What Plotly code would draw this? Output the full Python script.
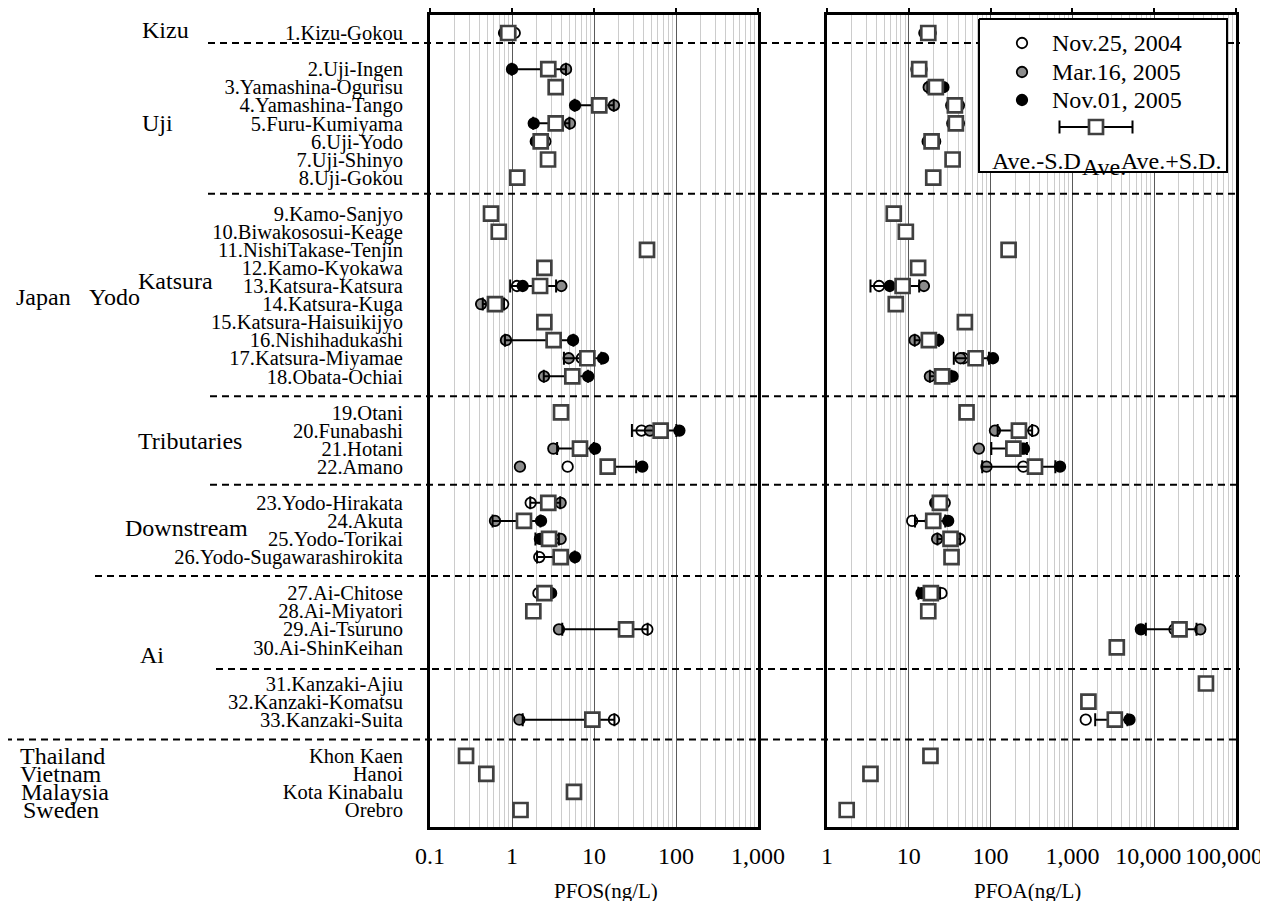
import plotly.graph_objects as go

# ---------------- data ----------------
stations = ["1.Kizu-Gokou", "2.Uji-Ingen", "3.Yamashina-Ogurisu", "4.Yamashina-Tango",
            "5.Furu-Kumiyama", "6.Uji-Yodo", "7.Uji-Shinyo", "8.Uji-Gokou",
            "9.Kamo-Sanjyo", "10.Biwakososui-Keage", "11.NishiTakase-Tenjin",
            "12.Kamo-Kyokawa", "13.Katsura-Katsura", "14.Katsura-Kuga",
            "15.Katsura-Haisuikijyo", "16.Nishihadukashi", "17.Katsura-Miyamae",
            "18.Obata-Ochiai", "19.Otani", "20.Funabashi", "21.Hotani", "22.Amano",
            "23.Yodo-Hirakata", "24.Akuta", "25.Yodo-Torikai", "26.Yodo-Sugawarashirokita",
            "27.Ai-Chitose", "28.Ai-Miyatori", "29.Ai-Tsuruno", "30.Ai-ShinKeihan",
            "31.Kanzaki-Ajiu", "32.Kanzaki-Komatsu", "33.Kanzaki-Suita",
            "Khon Kaen", "Hanoi", "Kota Kinabalu", "Orebro"]
block_sizes = [1, 7, 10, 4, 4, 4, 3, 4]

N = None
pfos_nov04 = [1.08, 2.8, N, 11.4, 3.3, 2.55, N, N, N, N, N, N, 1.15, 0.78, N, 3.3, 7.1, 5.4,
              N, 38, 6.8, 4.77, 1.69, 1.32, 2.4, 2.15, 2.1, N, 44.7, N, N, N, 17.5, N, N, N, N]
pfos_mar05 = [0.85, 4.56, N, 17.5, 5.09, 2.2, N, N, N, N, N, N, 4.0, 0.42, N, 0.845, 4.91, 2.46,
              N, 48, 3.19, 1.25, 3.92, 0.62, 3.92, 3.7, 2.4, N, 3.74, N, N, N, 1.23, N, N, N, N]
pfos_nov05 = [0.80, 1.0, N, 5.87, 1.84, 1.95, N, N, N, N, N, N, 1.35, 0.66, N, 5.55, 12.9, 8.5,
              N, 110, 10.3, 38.8, 2.7, 2.26, 2.19, 5.87, 3.0, N, 25.4, N, N, N, 9.9, N, N, N, N]
pfos_ave = [0.90, 2.77, 3.41, 11.6, 3.41, 2.24, 2.75, 1.16, 0.555, 0.69, 44.3, 2.48, 2.2, 0.62,
            2.48, 3.22, 8.3, 5.44, 3.96, 65, 6.75, 14.7, 2.77, 1.4, 2.83, 3.92, 2.48, 1.82, 24.6,
            N, N, N, 9.55, 0.275, 0.486, 5.7, 1.27]
pfos_sd = [0.14, 1.78, N, 5.8, 1.6, 0.3, N, N, N, N, N, N, 1.25, 0.18, N, 2.4, 4.0, 3.0,
           N, 36, 3.2, 18, 1.1, 0.82, 0.9, 1.9, 0.45, N, 20.5, N, N, N, 8.2, N, N, N, N]

pfoa_nov04 = [15.5, 12.4, 21, 36, 36, 21, N, N, N, N, N, N, 4.33, N, N, 18.5, 46.6, 24,
              N, 333, 242, 251, 27.5, 11, 42, N, 25.1, N, 17700, N, N, N, 1456, N, N, N, N]
pfoa_mar05 = [17.5, 14.3, 17.5, 41, 41, 19, N, N, N, N, N, N, 15.3, N, N, 11.8, 42.9, 18.1,
              N, 113, 72, 89, 24, 18.5, 22.2, N, 17, N, 36600, N, N, N, 3400, N, N, N, N]
pfoa_nov05 = [18.5, 13.5, 26.5, 33, 34, 17, N, N, N, N, N, N, 5.85, N, N, 22.9, 107, 34.3,
              N, 220, 256, 706, 21, 30.3, 33, N, 14.3, N, 6870, N, N, N, 4990, N, N, N, N]
pfoa_ave = [17.3, 13.4, 21.4, 36.6, 37.6, 19, 34.3, 19.9, 6.55, 9.2, 166, 13.0, 8.4, 6.93,
            48.5, 17.6, 65.5, 25.6, 50.8, 222, 190, 349, 24, 19.9, 32.4, 33.3, 18.6, 17.3,
            20400, 3490, 42900, 1570, 3300, 18.4, 3.4, N, 1.74]
pfoa_sd = [N, N, 4.5, 4, 3.5, 2, N, N, N, N, N, N, 5.0, N, N, 5.8, 30, 7.5,
           N, 100, 88, 270, 3.5, 8, 10, N, 5.5, N, 12500, N, N, N, 1400, N, N, N, N]

pfos_ticks = ["0.1", "1", "10", "100", "1,000"]
pfoa_ticks = ["1", "10", "100", "1,000", "10,000\u00a0\u00a0",
              "100,000\u00a0\u00a0\u00a0\u00a0"]
legend_labels = ["Nov.25, 2004", "Mar.16, 2005", "Nov.01, 2005"]

# ---------------- layout geometry (page px) ----------------
FONT = "Liberation Serif, Times New Roman, serif"
OFF = 8                      # default page body margin
PAGE_W, PAGE_H = 1268, 901
W, H = PAGE_W - OFF, PAGE_H - OFF
TOP, BOT = 15, 827
L1, R1 = 430, 758
L2, R2 = 827, 1236
ROW0, ROW = 33, 18.07


def px(x):
    return (x - OFF) / W


def py(y):
    return (BOT - y) / (BOT - TOP)


slots, block_last = [], []
s = 0
for n in block_sizes:
    for _ in range(n):
        slots.append(s)
        s += 1
    block_last.append(s - 1)
    s += 1

y_range = [(BOT - ROW0) / ROW, (TOP - ROW0) / ROW]

circle_styles = [("white", pfos_nov04, pfoa_nov04), ("#8c8c8c", pfos_mar05, pfoa_mar05),
                 ("black", pfos_nov05, pfoa_nov05)]

fig = go.Figure()


def circles(vals, color, xa, ya):
    return go.Scatter(x=vals, y=slots, mode="markers", xaxis=xa, yaxis=ya,
                      marker=dict(symbol="circle", size=10.5, color=color,
                                  line=dict(color="black", width=1.8)),
                      showlegend=False, hoverinfo="skip")


def squares(ave, sd, xa, ya):
    plus = [v if v is not None else 0 for v in sd]
    minus = [v if (v is not None and a is not None and a - v > 0) else 0
             for a, v in zip(ave, sd)]
    return go.Scatter(x=ave, y=slots, mode="markers", xaxis=xa, yaxis=ya,
                      marker=dict(symbol="square", size=14, color="white",
                                  line=dict(color="#404040", width=2.7)),
                      error_x=dict(type="data", symmetric=False, array=plus,
                                   arrayminus=minus, color="black", thickness=2, width=6.5),
                      showlegend=False, hoverinfo="skip")


for color, a, b in circle_styles:
    fig.add_trace(circles(a, color, "x", "y"))
for color, a, b in circle_styles:
    fig.add_trace(circles(b, color, "x2", "y2"))
fig.add_trace(squares(pfos_ave, pfos_sd, "x", "y"))
fig.add_trace(squares(pfoa_ave, pfoa_sd, "x2", "y2"))

# dummy traces to register top-tick overlay axes
fig.add_trace(go.Scatter(x=[1], y=[-50], xaxis="x3", yaxis="y", mode="markers",
                         marker=dict(opacity=0), showlegend=False, hoverinfo="skip"))
fig.add_trace(go.Scatter(x=[10], y=[-50], xaxis="x4", yaxis="y2", mode="markers",
                         marker=dict(opacity=0), showlegend=False, hoverinfo="skip"))

# ---------------- custom legend (overlay axes in page-px units) ----------------
LG = dict(x0=979, x1=1227, y0=19, y1=172)
fig.add_trace(go.Scatter(x=[LG["x0"], LG["x1"], LG["x1"], LG["x0"], LG["x0"]],
                         y=[LG["y0"], LG["y0"], LG["y1"], LG["y1"], LG["y0"]],
                         mode="lines", fill="toself", fillcolor="white",
                         line=dict(color="black", width=2), xaxis="x5", yaxis="y5",
                         showlegend=False, hoverinfo="skip"))
leg_y = [43, 72, 100]
fig.add_trace(go.Scatter(x=[1022] * 3, y=leg_y, mode="markers", xaxis="x5", yaxis="y5",
                         marker=dict(symbol="circle", size=10.5,
                                     color=[c for c, _, _ in circle_styles],
                                     line=dict(color="black", width=1.8)),
                         showlegend=False, hoverinfo="skip"))
fig.add_trace(go.Scatter(x=[1096], y=[127], mode="markers", xaxis="x5", yaxis="y5",
                         marker=dict(symbol="square", size=14, color="white",
                                     line=dict(color="#404040", width=2.7)),
                         error_x=dict(type="data", array=[36.5], color="black",
                                      thickness=2, width=6.5),
                         showlegend=False, hoverinfo="skip"))

annotations = []
for lab, yy in zip(legend_labels, leg_y):
    annotations.append(dict(text=lab, x=1050, y=yy, xref="x5", yref="y5", xanchor="left",
                            yanchor="middle", showarrow=False,
                            font=dict(family=FONT, size=24, color="black")))
for lab, xx, yy in [("Ave.-S.D", 1036, 161), ("Ave.", 1104, 167), ("Ave.+S.D.", 1171, 161)]:
    annotations.append(dict(text=lab, x=xx, y=yy, xref="x5", yref="y5", xanchor="center",
                            yanchor="middle", showarrow=False,
                            font=dict(family=FONT, size=24, color="black")))

# group labels
group_labels = [("Kizu", 165, -0.17), ("Uji", 157, 5.0), ("Katsura", 175, 13.7),
                ("Japan", 43, 14.6), ("Yodo", 114, 14.6), ("Tributaries", 190, 22.6),
                ("Downstream", 186, 27.4), ("Ai", 152, 34.4), ("Thailand", 62, 40),
                ("Vietnam", 61, 41), ("Malaysia", 65, 42), ("Sweden", 61, 43)]
for lab, xx, yy in group_labels:
    annotations.append(dict(text=lab, x=px(xx), y=yy, xref="paper", yref="y",
                            xanchor="center", yanchor="middle", showarrow=False,
                            font=dict(family=FONT, size=24, color="black")))

# axis titles
for lab, xx in [("PFOS(ng/L)", 606), ("PFOA(ng/L)", 1027)]:
    annotations.append(dict(text=lab, x=px(xx), y=py(891), xref="paper", yref="paper",
                            xanchor="center", yanchor="middle", showarrow=False,
                            font=dict(family=FONT, size=21, color="black")))

# dashed dividers
divider_start = [208, 208, 210, 210, 95, 216, 5]
divider_shift = [-0.45, -0.1, 0.1, 0, 0.05, 0.2, 0.1]
shapes = []
for i in range(len(block_sizes) - 1):
    yv = block_last[i] + 1 + divider_shift[i]
    ypx = ROW0 + ROW * yv
    segs = [(divider_start[i], 1240)]
    if LG["y0"] < ypx < LG["y1"]:
        segs = [(divider_start[i], LG["x0"]), (LG["x1"], 1240)]
    for a, b in segs:
        shapes.append(dict(type="line", xref="paper", yref="y", x0=px(a), x1=px(b),
                           y0=yv, y1=yv, layer="above",
                           line=dict(color="black", width=2, dash="7px,5px")))

minor1 = [k * 10.0 ** e for e in range(-1, 3) for k in range(2, 10)]
minor2 = [k * 10.0 ** e for e in range(0, 5) for k in range(2, 10)]
dec1 = [0.1, 1, 10, 100, 1000]
dec2 = [1, 10, 100, 1000, 10000, 100000]

common_x = dict(type="log", showline=True, mirror=True, linecolor="black", linewidth=3,
                ticks="", showgrid=True, gridcolor="#5a5a5a", gridwidth=1, zeroline=False,
                tickfont=dict(family=FONT, size=24, color="black"), ticklabelstandoff=5,
                ticklabeloverflow="allow", tickangle=0, automargin=False, fixedrange=True)
common_top = dict(type="log", side="top", ticks="outside", ticklen=8, tickwidth=2,
                  tickcolor="black", showticklabels=False, showgrid=False, showline=False,
                  zeroline=False, automargin=False)
common_y = dict(range=y_range, showline=True, mirror=True, linecolor="black", linewidth=3,
                ticks="", showgrid=False, zeroline=False, automargin=False)

fig.update_layout(
    width=W, height=H, margin=dict(l=0, r=0, t=TOP - OFF, b=PAGE_H - BOT, pad=0),
    paper_bgcolor="white", plot_bgcolor="white", showlegend=False,
    xaxis=dict(common_x, domain=[px(L1), px(R1)], range=[-1, 3], anchor="y",
               tickvals=dec1, ticktext=pfos_ticks,
               minor=dict(tickvals=minor1, showgrid=True, gridcolor="#cccccc",
                          gridwidth=1, ticks="")),
    xaxis2=dict(common_x, domain=[px(L2), px(R2)], range=[0, 5], anchor="y2",
                tickvals=dec2, ticktext=pfoa_ticks,
                minor=dict(tickvals=minor2, showgrid=True, gridcolor="#cccccc",
                           gridwidth=1, ticks="")),
    xaxis3=dict(common_top, overlaying="x", anchor="y", range=[-1, 3], tickvals=dec1),
    xaxis4=dict(common_top, overlaying="x2", anchor="y2", range=[0, 5], tickvals=dec2),
    xaxis5=dict(overlaying="x2", anchor="y5", range=[L2, R2], visible=False,
                fixedrange=True),
    yaxis=dict(common_y, domain=[0, 1], anchor="x", tickvals=slots, ticktext=stations,
               tickfont=dict(family=FONT, size=20.5, color="black"), ticklabelstandoff=20),
    yaxis2=dict(common_y, domain=[0, 1], anchor="x2", showticklabels=False),
    yaxis5=dict(overlaying="y2", anchor="x5", range=[BOT, TOP], visible=False,
                fixedrange=True),
    annotations=annotations,
    shapes=shapes,
)

fig.write_html("out.html")
